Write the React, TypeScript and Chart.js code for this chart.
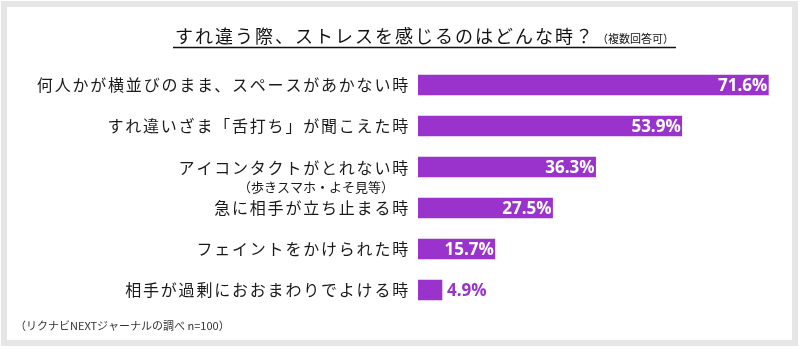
import React, { useEffect, useRef } from "react";
import { Chart, registerables } from "chart.js";

Chart.register(...registerables);

const TITLE = "すれ違う際、ストレスを感じるのはどんな時？";
const TITLE_NOTE = "（複数回答可）";
const SOURCE = "（リクナビNEXTジャーナルの調べ n=100）";

const categories = [
  "何人かが横並びのまま、スペースがあかない時",
  "すれ違いざま「舌打ち」が聞こえた時",
  "アイコンタクトがとれない時",
  "急に相手が立ち止まる時",
  "フェイントをかけられた時",
  "相手が過剰におおまわりでよける時",
];
const subLabels = ["", "", "（歩きスマホ・よそ見等）", "", "", ""];
const values = [71.6, 53.9, 36.3, 27.5, 15.7, 4.9];
const valueLabels = values.map((v) => v.toFixed(1) + "%");

const PURPLE = "#9933cc";
const JP = '"Noto Sans CJK JP", "Noto Sans", sans-serif';

const labelPlugin = {
  id: "customLabels",
  afterDatasetsDraw(chart: any) {
    const ctx = chart.ctx as CanvasRenderingContext2D & { letterSpacing?: string };
    const yScale = chart.scales.y;
    const meta = chart.getDatasetMeta(0);
    const left = chart.chartArea.left;
    ctx.save();

    // Title
    ctx.fillStyle = "#111";
    ctx.textBaseline = "middle";
    ctx.textAlign = "left";
    ctx.font = `18px ${JP}`;
    (ctx as any).letterSpacing = "2px";
    const tx = 175;
    ctx.fillText(TITLE, tx, 36);
    const tw = ctx.measureText(TITLE).width;
    ctx.font = `11px ${JP}`;
    (ctx as any).letterSpacing = "0px";
    ctx.fillText(TITLE_NOTE, tx + tw + 2, 39);
    const nw = ctx.measureText(TITLE_NOTE).width;
    ctx.strokeStyle = "#111";
    ctx.lineWidth = 1.5;
    ctx.beginPath();
    ctx.moveTo(tx - 2, 47.5);
    ctx.lineTo(tx + tw + 2 + nw + 2, 47.5);
    ctx.stroke();

    // Category labels
    ctx.textAlign = "right";
    ctx.fillStyle = "#1a1a1a";
    categories.forEach((c, i) => {
      const py = yScale.getPixelForValue(i);
      ctx.font = `16px ${JP}`;
      (ctx as any).letterSpacing = "1.8px";
      ctx.fillText(c, left - 8, py + (subLabels[i] ? 1 : 0));
      if (subLabels[i]) {
        ctx.font = `13px ${JP}`;
        (ctx as any).letterSpacing = "0px";
        ctx.textAlign = "center";
        ctx.fillText(subLabels[i], 316, py + 20);
        ctx.textAlign = "right";
      }
    });

    // Value labels
    (ctx as any).letterSpacing = "0px";
    ctx.font = `bold 17px "Open Sans", "DejaVu Sans", sans-serif`;
    meta.data.forEach((bar: any, i: number) => {
      if (values[i] >= 10) {
        ctx.fillStyle = "#ffffff";
        ctx.textAlign = "right";
        ctx.fillText(valueLabels[i], bar.x - 1, bar.y + 1);
      } else {
        ctx.fillStyle = PURPLE;
        ctx.textAlign = "left";
        ctx.fillText(valueLabels[i], bar.x + 5, bar.y + 1);
      }
    });

    // Source
    ctx.font = `11px ${JP}`;
    ctx.fillStyle = "#333";
    ctx.textAlign = "left";
    ctx.fillText(SOURCE, 15, 326);

    ctx.restore();
  },
};

export default function App() {
  const ref = useRef<HTMLCanvasElement>(null);
  useEffect(() => {
    const chart = new Chart(ref.current as HTMLCanvasElement, {
      type: "bar",
      data: {
        labels: categories,
        datasets: [
          {
            data: values,
            backgroundColor: PURPLE,
            borderWidth: 0,
            barThickness: 20,
          },
        ],
      },
      options: {
        indexAxis: "y",
        responsive: false,
        animation: false,
        layout: { padding: { left: 418, right: 15, top: 64.5, bottom: 39.5 } },
        scales: {
          x: { display: false, min: 0, max: 75 },
          y: { display: false },
        },
        plugins: {
          legend: { display: false },
          tooltip: { enabled: false },
        },
      },
      plugins: [labelPlugin],
    } as any);
    return () => chart.destroy();
  }, []);
  return (
    <div style={{ position: "fixed", left: 0, top: 0, width: 800, height: 350, background: "#fff" }}>
      <div style={{ position: "absolute", left: 1, top: 1, width: 797, height: 345, background: "#e6e6e6" }} />
      <div style={{ position: "absolute", left: 7, top: 7, width: 785, height: 333, background: "#fff" }} />
      <canvas ref={ref} width={800} height={350} style={{ position: "absolute", left: 0, top: 0 }} />
    </div>
  );
}
